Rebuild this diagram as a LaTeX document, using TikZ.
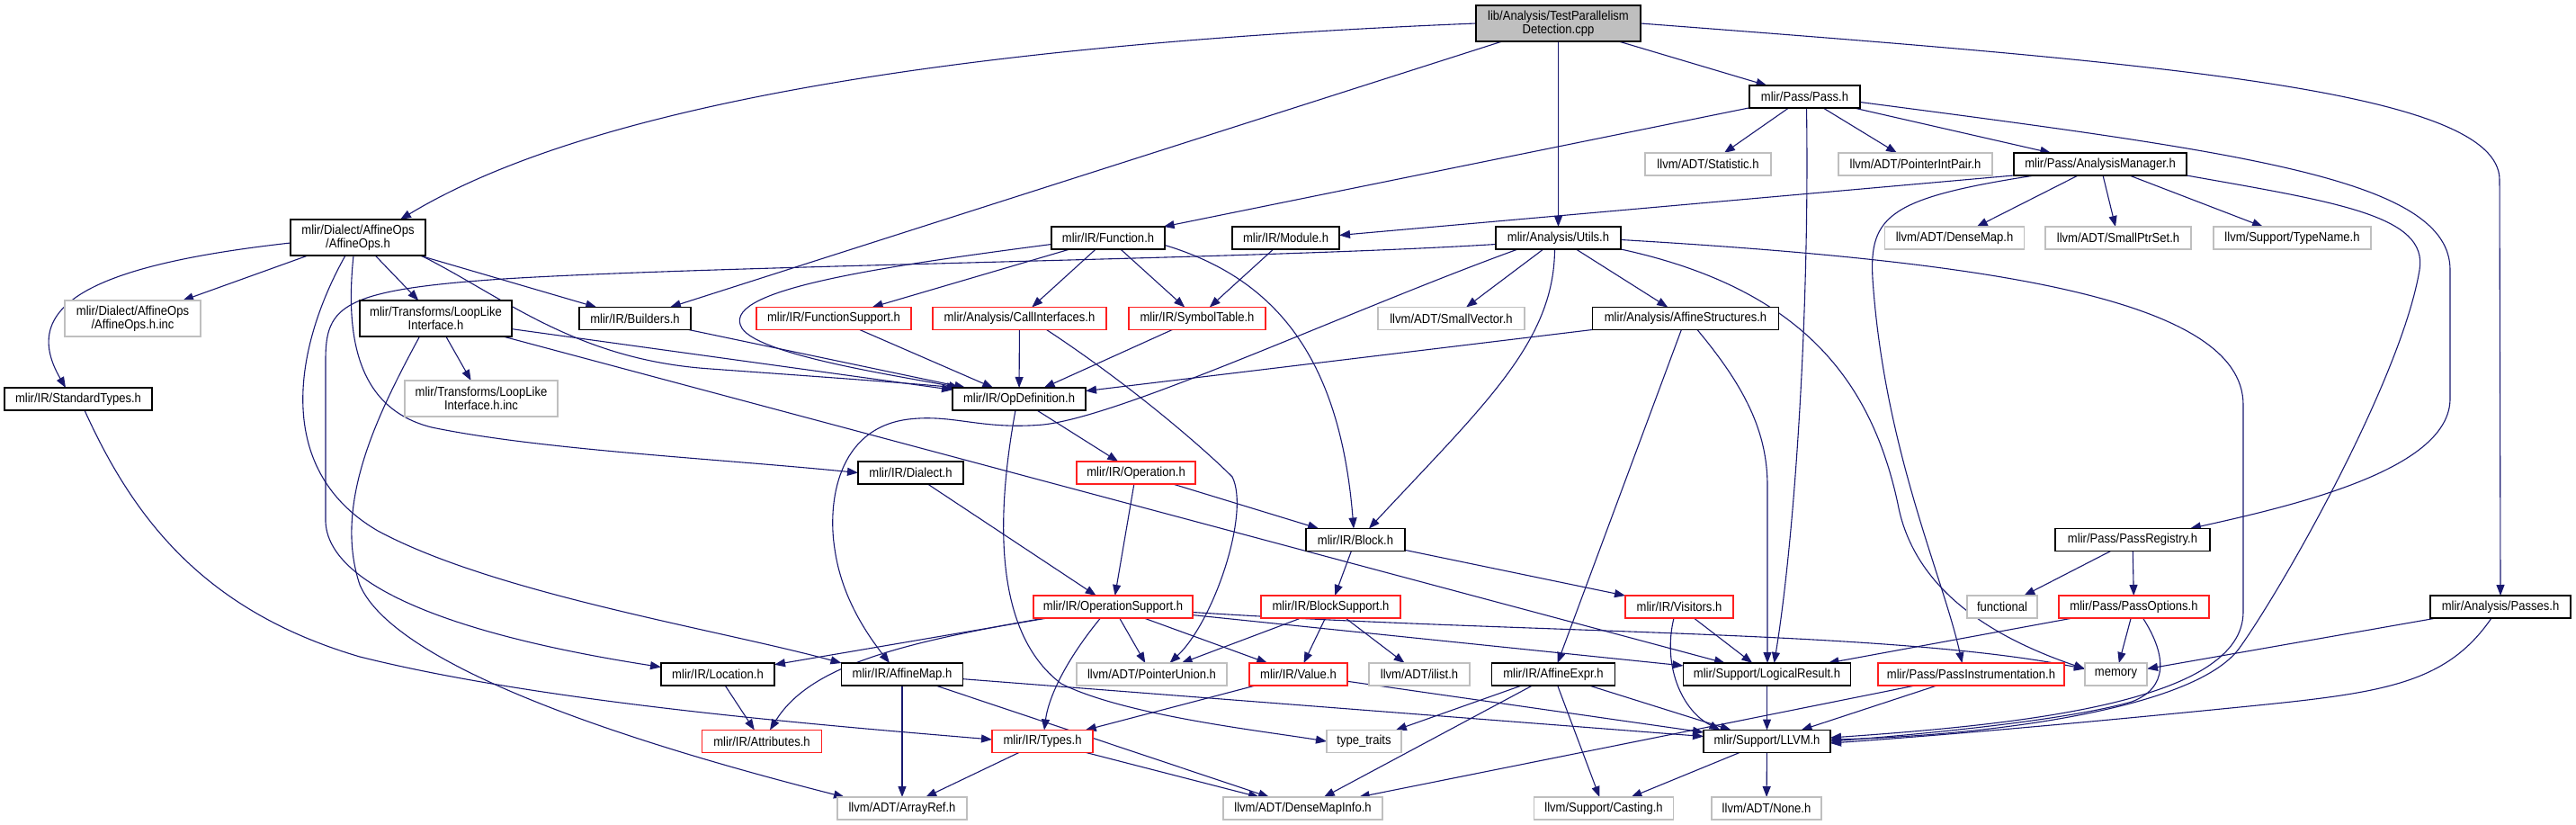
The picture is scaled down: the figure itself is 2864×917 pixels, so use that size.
\documentclass[tikz,border=0pt]{standalone}
\usepackage{fontspec}
\setmainfont{Liberation Sans}[FakeStretch=0.9]
\usetikzlibrary{arrows.meta}
\definecolor{edgec}{HTML}{191970}
\definecolor{grayb}{HTML}{BFBFBF}
\definecolor{redb}{HTML}{FF2020}
\newcommand\nodefont{\fontsize{14.5pt}{15pt}\selectfont}
\pgfdeclarelayer{bg}
\pgfsetlayers{bg,main}
\tikzset{
  box/.style={draw=black, fill=white, line width=1.3pt, minimum height=25pt, inner sep=0pt, outer sep=0pt, align=center, font=\nodefont},
  tall/.style={minimum height=40pt},
  gbox/.style={box, draw=grayb},
  rbox/.style={box, draw=redb},
  e/.style={draw=edgec, line width=1.1pt, -{Triangle[length=12pt,width=9pt]}},
}
\begin{document}
\begin{tikzpicture}[x=1pt,y=-1pt]
\useasboundingbox (0,0) rectangle (2864,917);
% row 0
\node[box, tall, fill=grayb, minimum width=183pt] (T) at (1732.5,26) {lib/Analysis/TestParallelism\\Detection.cpp};
% row 1
\node[box, minimum width=123pt] (Pass) at (2006.5,107.5) {mlir/Pass/Pass.h};
% row 2
\node[gbox, minimum width=140pt] (Stat) at (1899,182.5) {llvm/ADT/Statistic.h};
\node[gbox, minimum width=171pt] (PIP) at (2129.5,182.5) {llvm/ADT/PointerIntPair.h};
\node[box, minimum width=192pt] (AM) at (2335,182.5) {mlir/Pass/AnalysisManager.h};
% row 3
\node[box, tall, minimum width=150pt] (AffOps) at (398,264) {mlir/Dialect/AffineOps\\/AffineOps.h};
\node[box, minimum width=126pt] (Function) at (1232,264.5) {mlir/IR/Function.h};
\node[box, minimum width=119pt] (Module) at (1429.5,264.5) {mlir/IR/Module.h};
\node[box, minimum width=139pt] (Utils) at (1732.5,264.5) {mlir/Analysis/Utils.h};
\node[gbox, minimum width=155pt] (DenseMap) at (2173,264.5) {llvm/ADT/DenseMap.h};
\node[gbox, minimum width=162pt] (SmallPtrSet) at (2355,264.5) {llvm/ADT/SmallPtrSet.h};
\node[gbox, minimum width=175pt] (TypeName) at (2548.5,264.5) {llvm/Support/TypeName.h};
% row 4
\node[gbox, tall, minimum width=151pt] (AffInc) at (147.5,354) {mlir/Dialect/AffineOps\\/AffineOps.h.inc};
\node[box, tall, minimum width=169pt] (Loop) at (484.5,354) {mlir/Transforms/LoopLike\\Interface.h};
\node[box, minimum width=124pt] (Builders) at (706,354) {mlir/IR/Builders.h};
\node[rbox, minimum width=172pt] (FuncSup) at (927,354) {mlir/IR/FunctionSupport.h};
\node[rbox, minimum width=193pt] (CallIf) at (1133.5,354) {mlir/Analysis/CallInterfaces.h};
\node[rbox, minimum width=152pt] (SymTab) at (1331,354) {mlir/IR/SymbolTable.h};
\node[gbox, minimum width=163pt] (SmallVec) at (1613.5,354) {llvm/ADT/SmallVector.h};
\node[box, minimum width=207pt] (AffStruct) at (1874,354) {mlir/Analysis/AffineStructures.h};
% row 5
\node[box, minimum width=164pt] (StdTypes) at (87,443.5) {mlir/IR/StandardTypes.h};
\node[gbox, tall, minimum width=170pt] (LoopInc) at (535,443) {mlir/Transforms/LoopLike\\Interface.h.inc};
\node[box, minimum width=148pt] (OpDef) at (1133,443.5) {mlir/IR/OpDefinition.h};
% row 6
\node[box, minimum width=117pt] (Dialect) at (1012.5,525.5) {mlir/IR/Dialect.h};
\node[rbox, minimum width=132pt] (Operation) at (1263,525.5) {mlir/IR/Operation.h};
% row 7
\node[box, minimum width=110pt] (Block) at (1507,600) {mlir/IR/Block.h};
\node[box, minimum width=172pt] (PassReg) at (2371,600) {mlir/Pass/PassRegistry.h};
% row 8
\node[rbox, minimum width=177pt] (OpSup) at (1237.5,674.5) {mlir/IR/OperationSupport.h};
\node[rbox, minimum width=155pt] (BlockSup) at (1479.5,674.5) {mlir/IR/BlockSupport.h};
\node[rbox, minimum width=120pt] (Visitors) at (1867,674.5) {mlir/IR/Visitors.h};
\node[gbox, minimum width=78pt] (functional) at (2226,674.5) {functional};
\node[rbox, minimum width=167pt] (PassOpt) at (2372.5,674.5) {mlir/Pass/PassOptions.h};
\node[box, minimum width=156pt] (Passes) at (2780,674.5) {mlir/Analysis/Passes.h};
% row 9
\node[box, minimum width=126pt] (Location) at (798,749.5) {mlir/IR/Location.h};
\node[box, minimum width=135pt] (AffMap) at (1003,749.5) {mlir/IR/AffineMap.h};
\node[gbox, minimum width=167pt] (PtrUnion) at (1280.5,749.5) {llvm/ADT/PointerUnion.h};
\node[rbox, minimum width=109pt] (Value) at (1443.5,749.5) {mlir/IR/Value.h};
\node[gbox, minimum width=112pt] (ilist) at (1578,749.5) {llvm/ADT/ilist.h};
\node[box, minimum width=137pt] (AffExpr) at (1727,749.5) {mlir/IR/AffineExpr.h};
\node[box, minimum width=186pt] (LogRes) at (1964.5,749.5) {mlir/Support/LogicalResult.h};
\node[rbox, minimum width=207pt] (PassInst) at (2191.5,749.5) {mlir/Pass/PassInstrumentation.h};
\node[gbox, minimum width=69pt] (memory) at (2352.5,749.5) {memory};
% row 10
\node[rbox, minimum width=133pt] (Attr) at (847,824) {mlir/IR/Attributes.h};
\node[rbox, minimum width=112pt] (Types) at (1159,824) {mlir/IR/Types.h};
\node[gbox, minimum width=83pt] (typetraits) at (1516.5,824) {type\_traits};
\node[box, minimum width=141pt] (LLVM) at (1964.5,824) {mlir/Support/LLVM.h};
% row 11
\node[gbox, minimum width=144pt] (ArrayRef) at (1003,898.5) {llvm/ADT/ArrayRef.h};
\node[gbox, minimum width=177pt] (DMI) at (1448.5,898.5) {llvm/ADT/DenseMapInfo.h};
\node[gbox, minimum width=155pt] (Casting) at (1783,898.5) {llvm/Support/Casting.h};
\node[gbox, minimum width=122pt] (None) at (1964,898.5) {llvm/ADT/None.h};

\begin{pgfonlayer}{bg}
% T
\draw[e] (T.west) .. controls (1050,50) and (650,120) .. ([xshift=47pt]AffOps.north);
\draw[e] (T) -- (Builders);
\draw[e] (T) -- (Utils);
\draw[e] (T) -- (Pass);
\draw[e] (T.east) .. controls (2400,70) and (2779,100) .. (2779,200) -- (Passes.north);
% Pass
\draw[e] (Pass) -- (Function);
\draw[e] (Pass) -- (Stat);
\draw[e] (Pass) -- (PIP);
\draw[e] (Pass) -- (AM);
\draw[e] ([xshift=2pt]Pass.south) .. controls (2012,350) and (1995,600) .. ([xshift=8pt]LogRes.north);
\draw[e] ([yshift=-6pt]Pass.east) .. controls (2500,170) and (2724,200) .. (2724,300) -- (2724,443) .. controls (2724,520) and (2560,560) .. ([xshift=64pt]PassReg.north);
% AM
\draw[e] ([xshift=-96pt]AM.south) -- ([yshift=3pt]Module.east);
\draw[e] (AM) -- (DenseMap);
\draw[e] (AM) -- (SmallPtrSet);
\draw[e] (AM) -- (TypeName);
\draw[e] ([xshift=-73pt]AM.south) .. controls (2100,220) and (2078,240) .. (2082,310) .. controls (2095,500) and (2160,640) .. ([xshift=-10pt]PassInst.north);
\draw[e] (AM.south east) .. controls (2600,225) and (2700,240) .. (2690,300) .. controls (2670,420) and (2540,650) .. (2490,720) .. controls (2440,790) and (2200,818) .. ([yshift=2pt]LLVM.east);
% Utils
\draw[e] ([yshift=-7pt]Utils.west) .. controls (1400,288) and (800,295) .. (560,310) .. controls (380,322) and (362,340) .. (362,400) -- (362,580) .. controls (365,650) and (500,705) .. ([yshift=8pt]Location.west);
\draw[e] ([xshift=-45pt]Utils.south) .. controls (1500,345) and (1250,462) .. (1160,472) .. controls (1090,478) and (1060,460) .. (1010,466) .. controls (930,476) and (920,560) .. (928,610) .. controls (935,660) and (960,700) .. ([xshift=-14pt]AffMap.north);
\draw[e] ([xshift=-4pt]Utils.south) .. controls (1728,380) and (1650,450) .. ([xshift=15pt]Block.north);
\draw[e] (Utils) -- (SmallVec);
\draw[e] (Utils) -- (AffStruct);
\draw[e] (Utils.south east) .. controls (2000,320) and (2080,420) .. (2110,560) .. controls (2125,640) and (2190,700) .. ([yshift=6pt]memory.west);
\draw[e] ([yshift=-2pt]Utils.east) .. controls (2200,290) and (2494,330) .. (2494,450) -- (2494,680) .. controls (2494,780) and (2250,805) .. ([yshift=4pt]LLVM.east);
% Module
\draw[e] (Module) -- (SymTab);
% Function
\draw[e] (Function) -- (FuncSup);
\draw[e] (Function) -- (CallIf);
\draw[e] (Function) -- (SymTab);
\draw[e] ([yshift=-7pt]Function.west) .. controls (950,300) and (800,325) .. (825,365) .. controls (845,395) and (1000,418) .. ([xshift=-66pt]OpDef.north);
\draw[e] ([yshift=-8pt]Function.east) .. controls (1420,310) and (1490,400) .. ([xshift=-2pt]Block.north);
% Builders
\draw[e] (Builders) -- (OpDef);
% AffOps
\draw[e] (AffOps) -- (AffInc);
\draw[e] (AffOps) -- (Loop);
\draw[e] (AffOps) -- (Builders);
\draw[e] ([yshift=-6pt]AffOps.west) .. controls (100,295) and (20,340) .. ([xshift=-14pt]StdTypes.north);
\draw[e] ([xshift=-14pt]AffOps.south) .. controls (330,380) and (300,520) .. (420,590) .. controls (550,660) and (800,700) .. (AffMap.north west);
\draw[e] ([xshift=-5pt]AffOps.south) .. controls (383,380) and (400,455) .. (480,475) .. controls (600,500) and (800,510) .. (Dialect.west);
\draw[e] ([xshift=70pt]AffOps.south) .. controls (560,330) and (640,400) .. (790,410) .. controls (900,418) and (1000,425) .. ([xshift=-68pt]OpDef.north);
% LoopLike
\draw[e] (Loop) -- (LoopInc);
\draw[e] (Loop) -- (OpDef);
\draw[e] (Loop) -- (LogRes);
\draw[e] ([xshift=-18pt]Loop.south) .. controls (420,460) and (370,560) .. (400,650) .. controls (430,720) and (600,800) .. ([xshift=-64pt]ArrayRef.north);
% StandardTypes
\draw[e] ([xshift=7pt]StdTypes.south) .. controls (150,580) and (230,680) .. (400,730) .. controls (600,780) and (900,805) .. ([yshift=2pt]Types.west);
% OpDefinition
\draw[e] (OpDef) -- (Operation);
\draw[e] ([xshift=-4pt]OpDef.south) .. controls (1110,560) and (1100,700) .. (1180,760) .. controls (1250,795) and (1400,812) .. (typetraits.west);
% interfaces
\draw[e] (CallIf) -- (OpDef);
\draw[e] ([xshift=30pt]CallIf.south) .. controls (1260,430) and (1340,500) .. (1370,530) .. controls (1390,570) and (1350,690) .. ([xshift=20pt]PtrUnion.north);
\draw[e] (FuncSup) -- (OpDef);
\draw[e] (SymTab) -- (OpDef);
% AffineStructures
\draw[e] (AffStruct) -- (OpDef);
\draw[e] (AffStruct) -- (AffExpr);
\draw[e] ([xshift=13pt]AffStruct.south) .. controls (1940,430) and (1965,480) .. (1965,540) -- ([xshift=0.5pt]LogRes.north);
% Dialect, Operation
\draw[e] (Dialect) -- (OpSup);
\draw[e] (Operation) -- (OpSup);
\draw[e] (Operation) -- (Block);
% Block
\draw[e] (Block) -- (BlockSup);
\draw[e] (Block) -- (Visitors);
% OperationSupport
\draw[e] (OpSup) -- (Location);
\draw[e] ([xshift=-76pt]OpSup.south) .. controls (1000,715) and (900,740) .. ([xshift=9pt]Attr.north);
\draw[e] ([xshift=-14pt]OpSup.south) .. controls (1180,740) and (1165,780) .. ([xshift=2pt]Types.north);
\draw[e] (OpSup) -- (PtrUnion);
\draw[e] (OpSup) -- (Value);
\draw[e] (OpSup) -- (LogRes);
\draw[e] ([yshift=-6pt]OpSup.east) .. controls (1700,705) and (2100,700) .. ([yshift=6pt]memory.west);
% Location, AffineMap, Value, BlockSupport
\draw[e] (Location) -- (Attr);
\draw[e] (AffMap) -- (ArrayRef);
\draw[e] (AffMap) -- (DMI);
\draw[e] (AffMap) -- (LLVM);
\draw[e] (Value) -- (Types);
\draw[e] (Value) -- (LLVM);
\draw[e] (BlockSup) -- (PtrUnion);
\draw[e] (BlockSup) -- (Value);
\draw[e] (BlockSup) -- (ilist);
% Visitors
\draw[e] (Visitors) -- (LogRes);
\draw[e] ([xshift=-6pt]Visitors.south) .. controls (1848,740) and (1870,790) .. ([xshift=-52pt]LLVM.north);
% AffineExpr
\draw[e] (AffExpr) -- (typetraits);
\draw[e] (AffExpr) -- (DMI);
\draw[e] (AffExpr) -- (Casting);
\draw[e] (AffExpr) -- (LLVM);
% LogicalResult, LLVM, Types
\draw[e] (LogRes) -- (LLVM);
\draw[e] (LLVM) -- (Casting);
\draw[e] (LLVM) -- (None);
\draw[e] (Types) -- (ArrayRef);
\draw[e] (Types) -- (DMI);
% PassRegistry, PassOptions
\draw[e] (PassReg) -- (functional);
\draw[e] (PassReg) -- (PassOpt);
\draw[e] (PassOpt) -- (LogRes);
\draw[e] (PassOpt) -- (memory);
\draw[e] ([xshift=10pt]PassOpt.south) .. controls (2410,730) and (2410,765) .. (2370,780) .. controls (2300,800) and (2150,815) .. (LLVM.east);
% Passes
\draw[e] (Passes) -- (memory);
\draw[e] ([xshift=-10pt]Passes.south) .. controls (2720,760) and (2650,770) .. (2500,785) .. controls (2300,805) and (2150,818) .. ([yshift=-2pt]LLVM.east);
% PassInstrumentation
\draw[e] (PassInst) -- (DMI);
\draw[e] (PassInst) -- (LLVM);
\end{pgfonlayer}
\end{tikzpicture}
\end{document}
